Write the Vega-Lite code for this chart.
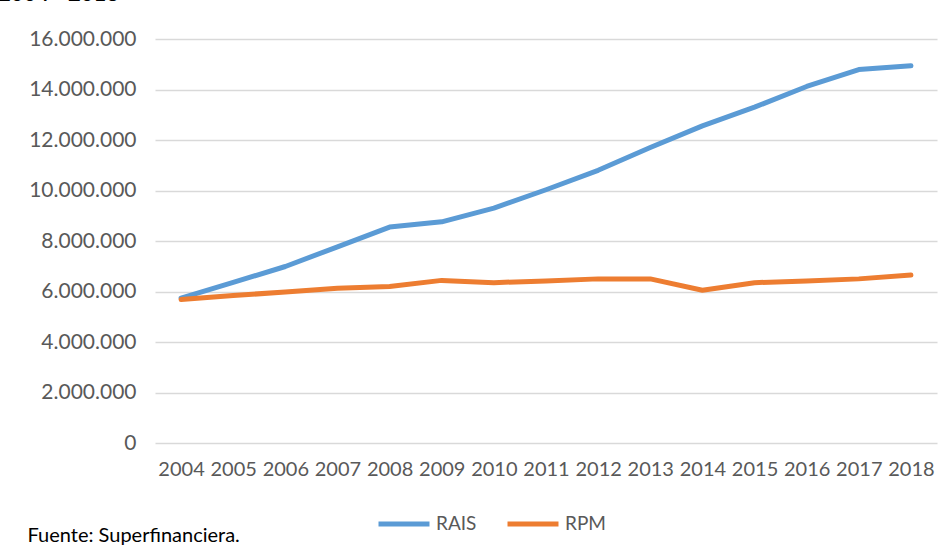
{
  "$schema": "https://vega.github.io/schema/vega-lite/v6.json",
  "autosize": "none",
  "width": 782,
  "height": 404,
  "padding": {"left": 155, "top": 39, "right": 13, "bottom": 112},
  "background": "white",
  "title": {
    "text": "2004 - 2018",
    "anchor": "start",
    "frame": "group",
    "dx": -157,
    "offset": 22,
    "font": "Lato",
    "fontSize": 22,
    "fontWeight": "bold",
    "color": "#000000"
  },
  "data": {
    "values": [
      {"year": "2004", "serie": "RAIS", "value": 5740000},
      {"year": "2005", "serie": "RAIS", "value": 6360000},
      {"year": "2006", "serie": "RAIS", "value": 6990000},
      {"year": "2007", "serie": "RAIS", "value": 7770000},
      {"year": "2008", "serie": "RAIS", "value": 8550000},
      {"year": "2009", "serie": "RAIS", "value": 8760000},
      {"year": "2010", "serie": "RAIS", "value": 9300000},
      {"year": "2011", "serie": "RAIS", "value": 10030000},
      {"year": "2012", "serie": "RAIS", "value": 10800000},
      {"year": "2013", "serie": "RAIS", "value": 11700000},
      {"year": "2014", "serie": "RAIS", "value": 12560000},
      {"year": "2015", "serie": "RAIS", "value": 13300000},
      {"year": "2016", "serie": "RAIS", "value": 14120000},
      {"year": "2017", "serie": "RAIS", "value": 14790000},
      {"year": "2018", "serie": "RAIS", "value": 14940000},
      {"year": "2004", "serie": "RPM", "value": 5680000},
      {"year": "2005", "serie": "RPM", "value": 5840000},
      {"year": "2006", "serie": "RPM", "value": 5980000},
      {"year": "2007", "serie": "RPM", "value": 6130000},
      {"year": "2008", "serie": "RPM", "value": 6200000},
      {"year": "2009", "serie": "RPM", "value": 6440000},
      {"year": "2010", "serie": "RPM", "value": 6350000},
      {"year": "2011", "serie": "RPM", "value": 6420000},
      {"year": "2012", "serie": "RPM", "value": 6500000},
      {"year": "2013", "serie": "RPM", "value": 6500000},
      {"year": "2014", "serie": "RPM", "value": 6050000},
      {"year": "2015", "serie": "RPM", "value": 6350000},
      {"year": "2016", "serie": "RPM", "value": 6420000},
      {"year": "2017", "serie": "RPM", "value": 6500000},
      {"year": "2018", "serie": "RPM", "value": 6650000}
    ]
  },
  "mark": {"type": "line", "strokeWidth": 5, "strokeCap": "round", "strokeJoin": "round"},
  "encoding": {
    "x": {
      "field": "year",
      "type": "ordinal",
      "scale": {"type": "point", "padding": 0.5},
      "axis": {
        "title": "Fuente: Superfinanciera.",
        "titleAnchor": "start",
        "titleAlign": "left",
        "titleX": -128,
        "titleY": 98,
        "titleBaseline": "alphabetic",
        "titleFont": "Lato",
        "titleFontSize": 20,
        "titleFontWeight": "normal",
        "titleColor": "#000000",
        "labelAngle": 0,
        "labelFont": "Lato",
        "labelFontSize": 20,
        "labelColor": "#595959",
        "labelPadding": 16,
        "ticks": false,
        "domain": false,
        "grid": false
      }
    },
    "y": {
      "field": "value",
      "type": "quantitative",
      "scale": {"domain": [0, 16000000], "nice": false},
      "axis": {
        "title": null,
        "values": [0, 2000000, 4000000, 6000000, 8000000, 10000000, 12000000, 14000000, 16000000],
        "labelExpr": "replace(format(datum.value, ',d'), /,/g, '.')",
        "labelFont": "Lato",
        "labelFontSize": 21,
        "labelColor": "#595959",
        "labelPadding": 19,
        "ticks": false,
        "domain": false,
        "grid": true,
        "gridColor": "#d9d9d9",
        "gridWidth": 1.5
      }
    },
    "color": {
      "field": "serie",
      "type": "nominal",
      "scale": {"domain": ["RAIS", "RPM"], "range": ["#5b9bd5", "#ed7d31"]},
      "legend": {
        "title": null,
        "orient": "none",
        "direction": "horizontal",
        "legendX": 221,
        "legendY": 457,
        "symbolType": "stroke",
        "symbolSize": 2600,
        "symbolStrokeWidth": 5,
        "labelFont": "Lato",
        "labelFontSize": 19,
        "labelColor": "#595959",
        "labelOffset": 4,
        "columnPadding": 20
      }
    }
  },
  "config": {"view": {"stroke": null}}
}
